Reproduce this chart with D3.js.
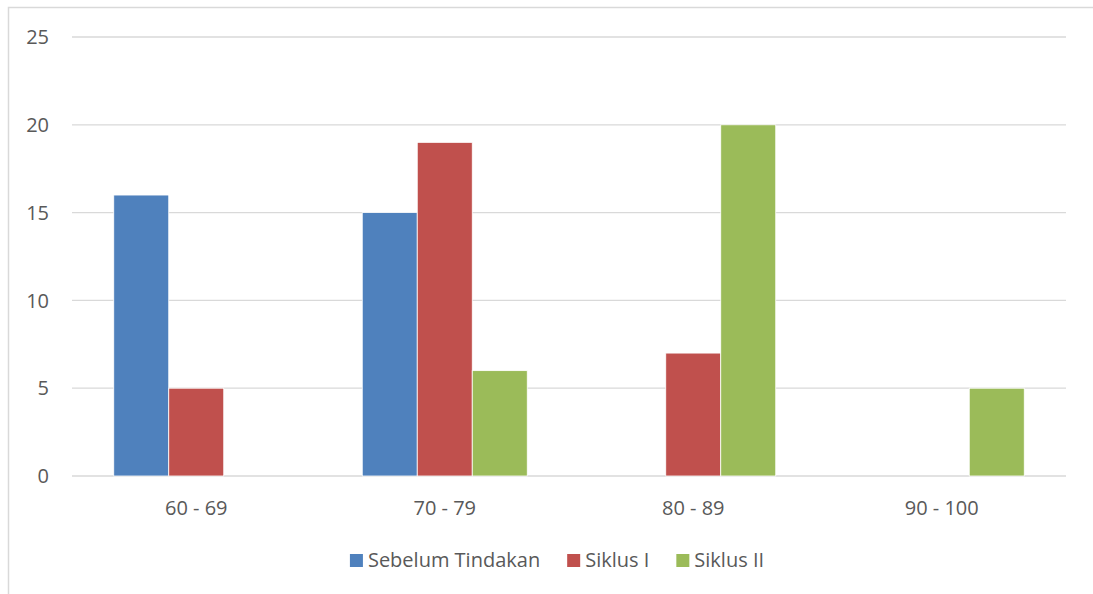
<!DOCTYPE html>
<html lang="id">
<head>
    <meta charset="UTF-8">
    <title>Distribusi Nilai</title>
    <style>
        body, html { margin: 0; padding: 0; background: #fff; overflow: hidden; }
        svg { display: block; }
        text { font-family: "Open Sans", "Noto Sans", sans-serif; fill: #595959; }
        .grid line { stroke: #d9d9d9; stroke-width: 1.3px; }
    </style>
</head>
<body>
    <script src="https://d3js.org/d3.v7.min.js"></script>
    <script>
        const width = 1093;
        const height = 594;

        // data
        const categories = ["60 - 69", "70 - 79", "80 - 89", "90 - 100"];
        const seriesNames = ["Sebelum Tindakan", "Siklus I", "Siklus II"];
        const sebelum = [16, 15, 0, 0];
        const siklus1 = [5, 19, 7, 0];
        const siklus2 = [0, 6, 20, 5];
        const yTicks = [0, 5, 10, 15, 20, 25];
        const colors = ["#4f81bd", "#c0504d", "#9bbb59"];

        const values = [sebelum, siklus1, siklus2];
        const fontSize = "20px";

        const svg = d3.select("body").append("svg")
            .attr("width", width)
            .attr("height", height);

        // chart border
        svg.append("rect")
            .attr("x", 8.5).attr("y", 7.5)
            .attr("width", width + 10).attr("height", height + 10)
            .attr("fill", "none")
            .attr("stroke", "#d9d9d9")
            .attr("stroke-width", 1.5);

        const plot = { left: 72, right: 1066, top: 37, bottom: 476 };

        const x = d3.scaleBand()
            .domain(categories)
            .range([plot.left, plot.right]);

        const groupW = 165;
        const xs = d3.scaleBand()
            .domain(seriesNames)
            .range([(x.bandwidth() - groupW) / 2, (x.bandwidth() + groupW) / 2]);

        const y = d3.scaleLinear()
            .domain([0, 25])
            .range([plot.bottom, plot.top]);

        // gridlines
        svg.append("g").attr("class", "grid")
            .selectAll("line")
            .data(yTicks)
            .enter().append("line")
            .attr("x1", plot.left).attr("x2", plot.right)
            .attr("y1", d => y(d)).attr("y2", d => y(d));

        // y labels
        svg.selectAll(".ylab")
            .data(yTicks)
            .enter().append("text")
            .attr("class", "ylab")
            .attr("x", 49)
            .attr("y", d => y(d))
            .attr("dy", "0.36em")
            .attr("text-anchor", "end")
            .style("font-size", fontSize)
            .text(d => d);

        // bars
        seriesNames.forEach((name, si) => {
            svg.append("g").selectAll("rect")
                .data(categories.map((c, i) => ({ c, v: values[si][i] })).filter(d => d.v > 0))
                .enter().append("rect")
                .attr("x", d => x(d.c) + xs(name))
                .attr("y", d => y(d.v))
                .attr("width", xs.bandwidth())
                .attr("height", d => y(0) - y(d.v))
                .attr("fill", colors[si])
                .attr("stroke", "#fff")
                .attr("stroke-width", 0.8);
        });

        // x labels
        svg.selectAll(".xlab")
            .data(categories)
            .enter().append("text")
            .attr("class", "xlab")
            .attr("x", d => x(d) + x.bandwidth() / 2)
            .attr("y", 508)
            .attr("dy", "0.36em")
            .attr("text-anchor", "middle")
            .style("font-size", fontSize)
            .text(d => d);

        // legend
        const legend = svg.append("g");
        let cx = 0;
        seriesNames.forEach((name, i) => {
            const g = legend.append("g").attr("transform", `translate(${cx},0)`);
            g.append("rect")
                .attr("x", 0).attr("y", -6)
                .attr("width", 13).attr("height", 13)
                .attr("fill", colors[i]);
            const t = g.append("text")
                .attr("x", 18).attr("y", 0)
                .attr("dy", "0.36em")
                .style("font-size", fontSize)
                .text(name);
            cx += 18 + t.node().getComputedTextLength() + 27;
        });
        const legW = cx - 27;
        legend.attr("transform", `translate(${557 - legW / 2},560)`);
    </script>
</body>
</html>
